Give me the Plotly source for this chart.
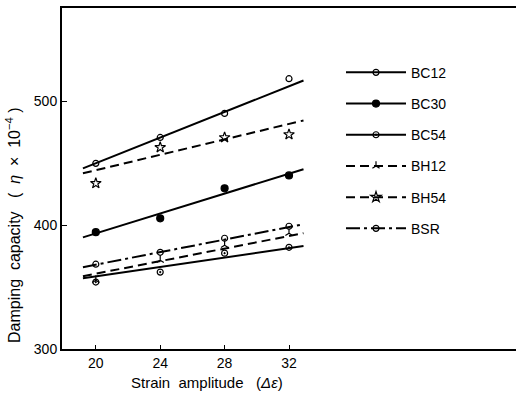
import plotly.graph_objects as go

# Measured data points
strain = [20, 24, 28, 32]
bc12 = [449.7, 470.6, 490.0, 518.0]
bc30 = [394.2, 405.4, 429.6, 440.0]
bc54 = [354.0, 362.0, 377.3, 382.0]
bh12 = [355.5, 371.6, 383.7, 393.4]
bh54 = [433.6, 462.6, 470.6, 473.0]
bsr = [368.4, 378.0, 389.3, 399.0]

# Fitted (regression) line end points
fit_x = [19.2, 32.9]
bc12_fit = [445.7, 516.5]
bc30_fit = [390.0, 445.0]
bc54_fit = [357.0, 383.0]
bh12_fit = [358.7, 393.4]
bh54_fit = [441.7, 484.3]
bsr_fit = [366.0, 400.6]

x_ticks = [20, 24, 28, 32]
y_ticks = [300, 400, 500]

series = [
    ("BC12", bc12, bc12_fit, "solid", "circle-open", 6),
    ("BC30", bc30, bc30_fit, "solid", "circle", 7),
    ("BC54", bc54, bc54_fit, "solid", "circle-open-dot", 6),
    ("BH12", bh12, bh12_fit, "9px,5px", "y-up-open", 6),
    ("BH54", bh54, bh54_fit, "9px,5px", "star-open", 8),
    ("BSR", bsr, bsr_fit, "14px,4px,3px,4px", "circle-open", 6),
]

fig = go.Figure()
for name, ys, fit, dash, sym, sz in series:
    # regression line
    fig.add_trace(go.Scatter(
        x=fit_x, y=fit, mode="lines", name=name, legendgroup=name,
        showlegend=False, line=dict(color="black", width=2, dash=dash),
        hoverinfo="skip"))
    # data markers
    fig.add_trace(go.Scatter(
        x=strain, y=ys, mode="markers", name=name, legendgroup=name,
        showlegend=False,
        marker=dict(symbol=sym, size=sz, color="black",
                    line=dict(color="black", width=1.2))))
    # legend entry (line + marker)
    fig.add_trace(go.Scatter(
        x=[None], y=[None], mode="lines+markers", name=name, legendgroup=name,
        line=dict(color="black", width=2, dash=dash),
        marker=dict(symbol=sym, size=sz, color="black",
                    line=dict(color="black", width=1.2))))

font = "Liberation Sans, Arial, sans-serif"

fig.update_layout(
    width=516, height=394,
    margin=dict(l=62, r=0, t=8, b=45),
    paper_bgcolor="white", plot_bgcolor="white",
    font=dict(family=font, size=13, color="black"),
    showlegend=True,
    legend=dict(
        x=(341 - 62) / 454, y=0.857, xanchor="left", yanchor="top",
        bgcolor="rgba(0,0,0,0)", borderwidth=0,
        itemwidth=60, tracegroupgap=10,
        font=dict(family=font, size=14, color="black"),
    ),
    xaxis=dict(
        range=[17.9, 46.1], tickvals=x_ticks, ticktext=[str(v) for v in x_ticks],
        showgrid=False, zeroline=False, showline=True, linecolor="black",
        linewidth=2, mirror=True, ticks="inside", ticklen=4, tickcolor="black",
        tickfont=dict(size=14),
    ),
    yaxis=dict(
        range=[300, 575], tickvals=y_ticks, ticktext=[str(v) for v in y_ticks],
        showgrid=False, zeroline=False, showline=True, linecolor="black",
        linewidth=2, ticks="inside", ticklen=5, tickcolor="black",
        tickfont=dict(size=14),
    ),
    annotations=[
        dict(text="Strain  amplitude   (<i>Δε</i>)", xref="paper", yref="paper",
             x=(207 - 62) / 454, y=-0.097, xanchor="center", yanchor="middle",
             showarrow=False, font=dict(size=15)),
        dict(text="Damping  capacity   (  <i>η</i>  ×  10<sup>−4</sup> )",
             xref="paper", yref="paper", x=-49 / 454, y=1 - (225 - 8) / 341,
             xanchor="center", yanchor="middle", textangle=-90,
             showarrow=False, font=dict(size=16)),
    ],
)

fig.write_html("out.html")
